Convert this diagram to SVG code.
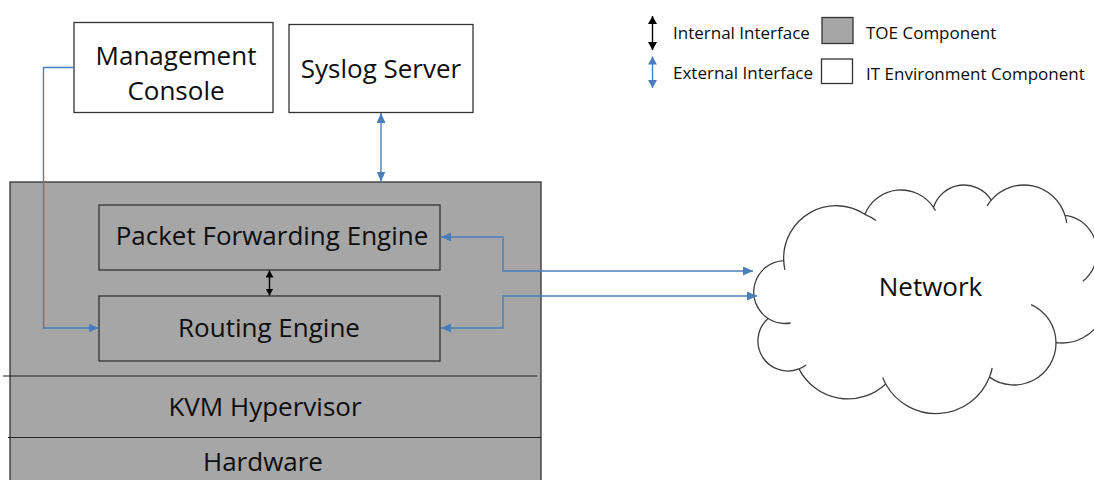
<svg xmlns="http://www.w3.org/2000/svg" width="1094" height="480" viewBox="0 0 1094 480">
  <style>
    .box { stroke: #333333; stroke-width: 1.3; }
    .toe { fill: #a6a6a6; }
    .env { fill: #ffffff; }
    .lbl { font-family: "Open Sans", "Liberation Sans", sans-serif; font-size: 26px; fill: #0d0d0d; text-anchor: middle; }
    .leg { font-family: "Open Sans", "Liberation Sans", sans-serif; font-size: 17px; fill: #0d0d0d; }
    .ext { fill: none; stroke: #4a7ebb; stroke-width: 1.4; }
    .int { fill: none; stroke: #000000; stroke-width: 1.4; }
    .cloud { fill: #ffffff; stroke: #3f3f3f; stroke-width: 1.3; }
    .stub { fill: none; stroke: #3f3f3f; stroke-width: 1.3; }
    .sep { stroke: #222222; stroke-width: 1.2; }
  </style>
  <defs>
    <marker id="ah-ext" markerUnits="userSpaceOnUse" markerWidth="10" markerHeight="9" refX="10" refY="4.5" orient="auto-start-reverse">
      <path d="M0,0 L10,4.5 L0,9 Z" fill="#4a7ebb"/>
    </marker>
    <marker id="ah-int" markerUnits="userSpaceOnUse" markerWidth="7" markerHeight="8" refX="7" refY="4" orient="auto-start-reverse">
      <path d="M0,0 L7,4 L0,8 Z" fill="#000000"/>
    </marker>
    <marker id="ah-leg-int" markerUnits="userSpaceOnUse" markerWidth="8" markerHeight="9" refX="8" refY="4.5" orient="auto-start-reverse">
      <path d="M0,0 L8,4.5 L0,9 Z" fill="#000000"/>
    </marker>
    <marker id="ah-leg-ext" markerUnits="userSpaceOnUse" markerWidth="8" markerHeight="9" refX="8" refY="4.5" orient="auto-start-reverse">
      <path d="M0,0 L8,4.5 L0,9 Z" fill="#4a7ebb"/>
    </marker>
  </defs>

  <!-- Legend -->
  <g id="legend">
    <path class="int" d="M652.5,16 V50" marker-start="url(#ah-leg-int)" marker-end="url(#ah-leg-int)"/>
    <text class="leg" x="673" y="39">Internal Interface</text>
    <path class="ext" d="M652.5,56.5 V88" marker-start="url(#ah-leg-ext)" marker-end="url(#ah-leg-ext)"/>
    <text class="leg" x="673" y="79">External Interface</text>
    <rect class="box toe" x="822" y="17.5" width="31" height="26"/>
    <text class="leg" x="866" y="38.5">TOE Component</text>
    <rect class="box env" x="821.5" y="59" width="31" height="24.5"/>
    <text class="leg" x="866" y="80">IT Environment  Component</text>
  </g>

  <!-- IT environment components -->
  <g id="management-console">
    <rect class="box env" x="74" y="22.5" width="199" height="90"/>
    <text class="lbl" x="176" y="64.5">Management</text>
    <text class="lbl" x="176" y="100">Console</text>
  </g>
  <g id="syslog-server">
    <rect class="box env" x="289" y="24.5" width="184" height="88"/>
    <text class="lbl" x="381" y="77.5">Syslog Server</text>
  </g>

  <!-- TOE: virtual router stack -->
  <g id="toe">
    <rect class="box toe" x="10" y="182" width="531" height="310"/>
    <line class="sep" x1="3" y1="376" x2="537" y2="376"/>
    <line class="sep" x1="8" y1="437.5" x2="541" y2="437.5"/>
  </g>
  <g id="packet-forwarding-engine">
    <rect class="box toe" x="99" y="205" width="341" height="65"/>
    <text class="lbl" x="272" y="245">Packet Forwarding Engine</text>
  </g>
  <g id="routing-engine">
    <rect class="box toe" x="99" y="296" width="341" height="65"/>
    <text class="lbl" x="269" y="336.5">Routing Engine</text>
  </g>
  <g id="kvm-hypervisor">
    <text class="lbl" x="265" y="416">KVM Hypervisor</text>
  </g>
  <g id="hardware">
    <text class="lbl" x="263" y="470.5">Hardware</text>
  </g>

  <!-- Network cloud: outline of eleven lobes plus the short inner lobe tails -->
  <g id="network">
    <path class="cloud" d="M783.7,260.6
      A52.5 52.5 0 0 1 864.9,214.3
      A39 39 0 0 1 933.5,207.4
      A32 32 0 0 1 991.2,200.1
      A43 43 0 0 1 1065,215.4
      A37 37 0 0 1 1094.1,266.5
      A45 45 0 0 1 1056,342.6
      A42 42 0 0 1 989.5,377.1
      A57.5 57.5 0 0 1 885.7,384
      A55 55 0 0 1 799,368.9
      A30 30 0 0 1 768.1,318.5
      A31.5 31.5 0 0 1 783.7,260.6 Z"/>
    <path class="stub" d="M784.9,269.8 A52.5 52.5 0 0 1 783.7,260.6"/>
    <path class="stub" d="M864.9,214.3 A52.5 52.5 0 0 1 876,220.5"/>
    <path class="stub" d="M933.5,207.4 A39 39 0 0 1 935.4,210.7"/>
    <path class="stub" d="M987.1,205.9 A43 43 0 0 1 991.2,200.1"/>
    <path class="stub" d="M1065,215.4 A43 43 0 0 1 1066.7,222.8"/>
    <path class="stub" d="M1094.1,266.5 A37 37 0 0 1 1082.8,281.2"/>
    <path class="stub" d="M1031.1,304.6 A42 42 0 0 1 1056,342.6"/>
    <path class="stub" d="M992.2,368 A57.5 57.5 0 0 1 989.5,377.1"/>
    <path class="stub" d="M885.7,384 A57.5 57.5 0 0 1 882.7,377.5"/>
    <path class="stub" d="M790.5,323 A31.5 31.5 0 0 1 768.1,318.5"/>
    <path class="stub" d="M806.1,365 A30 30 0 0 1 799,368.9"/>
    <text class="lbl" x="930.5" y="296">Network</text>
  </g>

  <!-- Interfaces -->
  <g id="connectors">
    <path class="ext" d="M74,67.5 H43.5 V328 H98.5" marker-end="url(#ah-ext)"/>
    <path class="ext" d="M381,113 V181.5" marker-start="url(#ah-ext)" marker-end="url(#ah-ext)"/>
    <path class="ext" d="M441,237 H503 V271 H753" marker-start="url(#ah-ext)" marker-end="url(#ah-ext)"/>
    <path class="ext" d="M441,328 H503 V296 H757" marker-start="url(#ah-ext)" marker-end="url(#ah-ext)"/>
    <path class="int" d="M269.5,270.5 V295.5" marker-start="url(#ah-int)" marker-end="url(#ah-int)"/>
  </g>
</svg>
